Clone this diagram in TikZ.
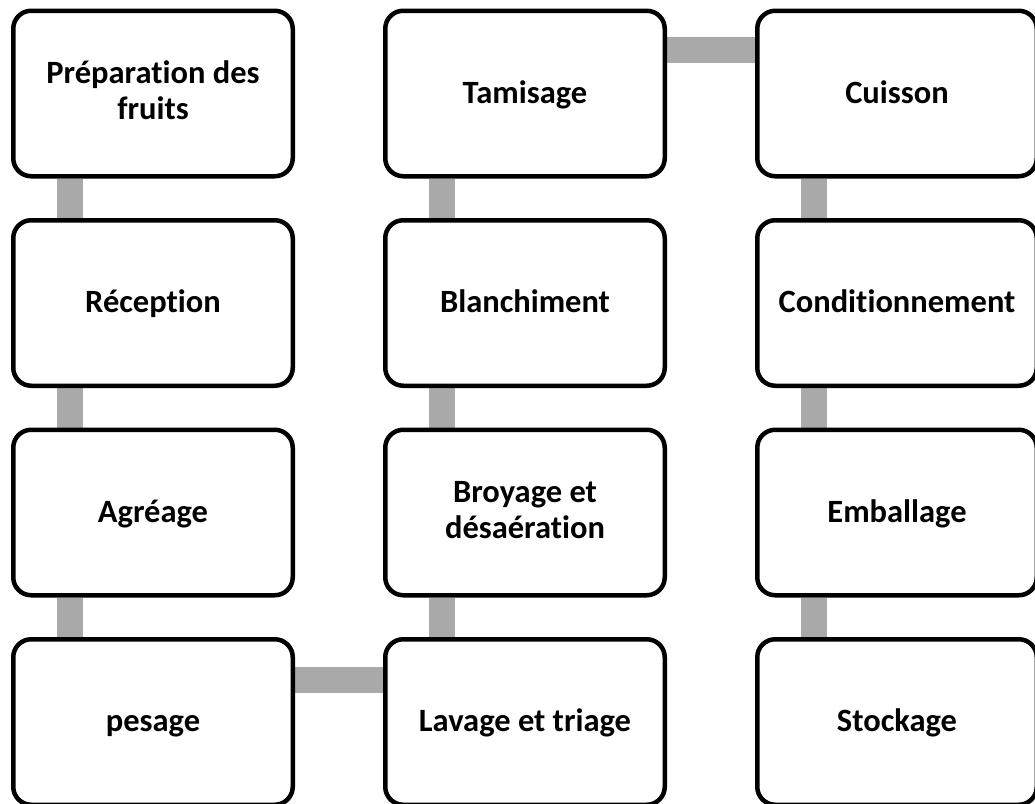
\documentclass[tikz,border=0pt]{standalone}
\usepackage{fontspec}
\setmainfont{Carlito}[Ligatures={NoCommon}]
\usetikzlibrary{positioning}
\pgfdeclarelayer{background}
\pgfsetlayers{background,main}
\definecolor{conngray}{RGB}{169,169,169}
\tikzset{
  stepbox/.style={draw=black, line width=4.5pt, fill=white, rounded corners=18pt,
    minimum width=279.5pt, minimum height=165.5pt, inner sep=0pt, align=center,
    text height=19pt, text depth=0pt,
    font=\bfseries\fontsize{32.5}{36}\selectfont},
  twoline/.style={text height=51pt, text depth=0pt},
  conn/.style={draw=conngray, line width=26pt}
}
\begin{document}
\begin{tikzpicture}[x=1pt,y=-1pt]
\useasboundingbox (0,0) rectangle (1035,803);
% column 1
\node[stepbox,twoline] (prep)  at (153,93.5) {Préparation des\\fruits};
\node[stepbox] (recep) at (153,303)  {Réception};
\node[stepbox] (agre)  at (153,512.5) {Agréage};
\node[stepbox] (pes)   at (153,722)  {pesage};
% column 2
\node[stepbox] (tam)   at (525,93.5) {Tamisage};
\node[stepbox] (blan)  at (525,303)  {Blanchiment};
\node[stepbox,twoline] (broy)  at (525,512.5) {Broyage et\\désaération};
\node[stepbox] (lav)   at (525,722)  {Lavage et triage};
% column 3
\node[stepbox] (cuis)  at (897,93.5) {Cuisson};
\node[stepbox] (cond)  at (897,303)  {Conditionnement};
\node[stepbox] (emb)   at (897,512.5) {Emballage};
\node[stepbox] (stock) at (897,722)  {Stockage};
\begin{pgfonlayer}{background}
\draw[conn] ([xshift=-83pt]prep.south) -- ([xshift=-83pt]recep.north);
\draw[conn] ([xshift=-83pt]recep.south) -- ([xshift=-83pt]agre.north);
\draw[conn] ([xshift=-83pt]agre.south) -- ([xshift=-83pt]pes.north);
\draw[conn] ([yshift=42pt]pes.east) -- ([yshift=42pt]lav.west);
\draw[conn] ([xshift=-83pt]lav.north) -- ([xshift=-83pt]broy.south);
\draw[conn] ([xshift=-83pt]broy.north) -- ([xshift=-83pt]blan.south);
\draw[conn] ([xshift=-83pt]blan.north) -- ([xshift=-83pt]tam.south);
\draw[conn] ([yshift=43.5pt]tam.east) -- ([yshift=43.5pt]cuis.west);
\draw[conn] ([xshift=-83pt]cuis.south) -- ([xshift=-83pt]cond.north);
\draw[conn] ([xshift=-83pt]cond.south) -- ([xshift=-83pt]emb.north);
\draw[conn] ([xshift=-83pt]emb.south) -- ([xshift=-83pt]stock.north);
\end{pgfonlayer}
\end{tikzpicture}
\end{document}
